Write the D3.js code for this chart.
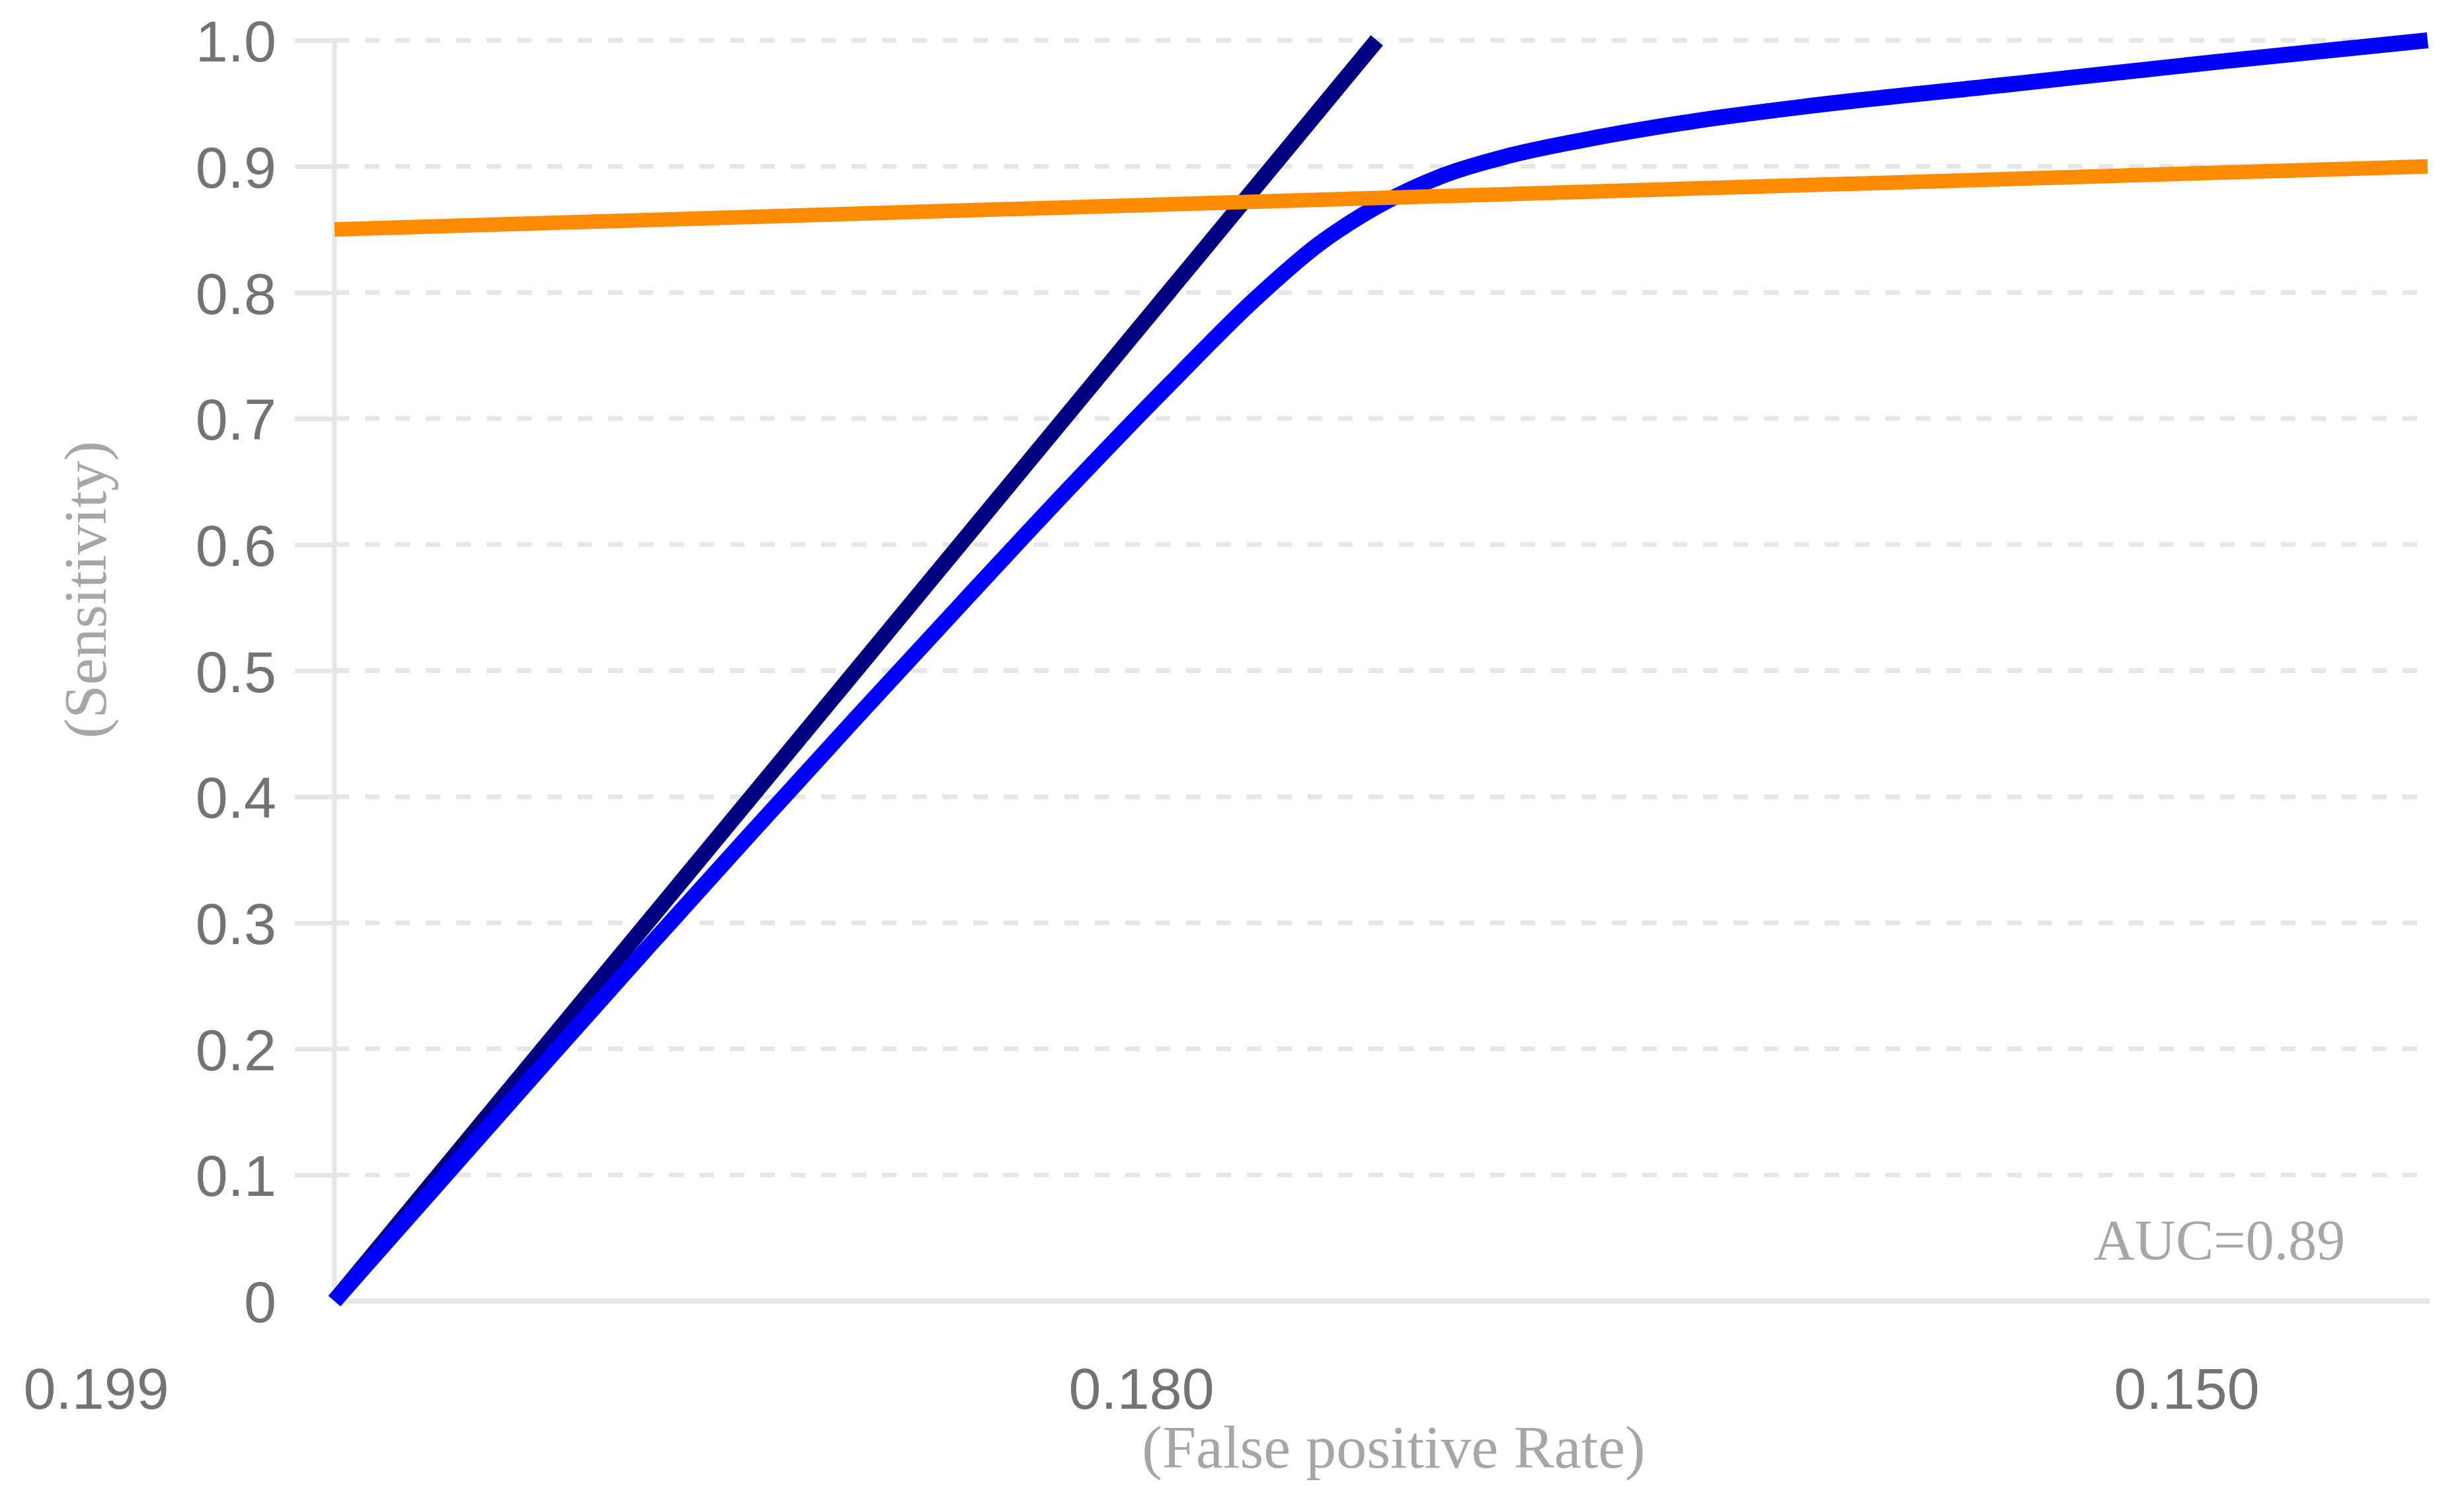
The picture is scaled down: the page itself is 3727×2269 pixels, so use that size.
<!DOCTYPE html>
<html>
<head>
<meta charset="utf-8">
<script src="https://cdn.jsdelivr.net/npm/d3@7"></script>
<style>
  html, body { margin: 0; padding: 0; background: #ffffff; }
  svg { display: block; }
</style>
</head>
<body>
<svg id="chart"></svg>
<script>
// ---------------- data ----------------
const yTicks = [0, 0.1, 0.2, 0.3, 0.4, 0.5, 0.6, 0.7, 0.8, 0.9, 1.0];
const yTickLabels = ["0", "0.1", "0.2", "0.3", "0.4", "0.5", "0.6", "0.7", "0.8", "0.9", "1.0"];
const xTickLabels = ["0.199", "0.180", "0.150"];

// curves: x is position along the plotted axis (0 = left edge, 1 = right edge)
const navyX = [0, 0.498];
const navyY = [0, 1.0];

const blueX = [0, 0.05, 0.10, 0.15, 0.20, 0.25, 0.30, 0.35, 0.40, 0.44, 0.47, 0.50, 0.53, 0.56, 0.60, 0.65, 0.70, 0.80, 0.90, 1.00];
const blueY = [0, 0.094, 0.188, 0.281, 0.373, 0.464, 0.554, 0.643, 0.729, 0.795, 0.838, 0.870, 0.893, 0.908, 0.922, 0.936, 0.947, 0.965, 0.983, 1.0];

const orangeX = [0, 1];
const orangeY = [0.85, 0.90];

const aucText = "AUC=0.89";
const xTitle = "(False positive Rate)";
const yTitle = "(Sensitivity)";

// ---------------- layout ----------------
const W = 3727, H = 2269;
const plotLeft = 506, plotRight = 3672, plotTop = 61, plotBottom = 1968;

const svg = d3.select("#chart").attr("width", W).attr("height", H)
  .attr("viewBox", `0 0 ${W} ${H}`);
svg.append("rect").attr("width", W).attr("height", H).attr("fill", "#ffffff");

const x = d3.scaleLinear().domain([0, 1]).range([plotLeft, plotRight]);
const y = d3.scaleLinear().domain([0, 1]).range([plotBottom, plotTop]);
const xLab = d3.scalePoint().domain(xTickLabels).range([145, 3307]);

const gridColor = "#e6e6e6";
const sansFont = "'Liberation Sans', Arial, Helvetica, sans-serif";
const serifFont = "'Liberation Serif', 'Times New Roman', serif";

// dashed gridlines
svg.append("g")
  .selectAll("line")
  .data(yTicks.filter(d => d > 0))
  .join("line")
  .attr("x1", plotLeft).attr("x2", plotRight)
  .attr("y1", d => y(d)).attr("y2", d => y(d))
  .attr("stroke", gridColor).attr("stroke-width", 7)
  .attr("stroke-dasharray", "22,24");

// y axis with tick stubs + labels
const yAxis = svg.append("g")
  .attr("transform", `translate(${plotLeft},0)`)
  .call(d3.axisLeft(y).tickValues(yTicks)
    .tickFormat((d, i) => yTickLabels[i]).tickSize(60).tickPadding(28));
yAxis.select(".domain").remove();
yAxis.selectAll(".tick line")
  .attr("stroke", gridColor).attr("stroke-width", 7)
  .filter(d => d === 0).remove();
yAxis.selectAll(".tick text")
  .attr("fill", "#737373").attr("font-family", sansFont).attr("font-size", 88)
  .attr("dy", "0.36em");

// axis lines
svg.append("line")
  .attr("x1", plotLeft).attr("x2", plotLeft)
  .attr("y1", y(1)).attr("y2", y(0))
  .attr("stroke", gridColor).attr("stroke-width", 7);
svg.append("line")
  .attr("x1", plotLeft).attr("x2", plotRight + 3)
  .attr("y1", y(0)).attr("y2", y(0))
  .attr("stroke", gridColor).attr("stroke-width", 8);

// x tick labels
const xAxis = svg.append("g")
  .attr("transform", `translate(0,2069)`)
  .call(d3.axisBottom(xLab).tickSize(0).tickPadding(0));
xAxis.select(".domain").remove();
xAxis.selectAll(".tick text")
  .attr("fill", "#737373").attr("font-family", sansFont).attr("font-size", 88);

// lines
const line = d3.line().x(d => x(d[0])).y(d => y(d[1]));
const lineSmooth = d3.line().x(d => x(d[0])).y(d => y(d[1])).curve(d3.curveMonotoneX);

svg.append("path")
  .datum(navyX.map((v, i) => [v, navyY[i]]))
  .attr("d", line).attr("fill", "none")
  .attr("stroke", "#000080").attr("stroke-width", 24);

svg.append("path")
  .datum(blueX.map((v, i) => [v, blueY[i]]))
  .attr("d", lineSmooth).attr("fill", "none")
  .attr("stroke", "#0000ff").attr("stroke-width", 24);

svg.append("path")
  .datum(orangeX.map((v, i) => [v, orangeY[i]]))
  .attr("d", line).attr("fill", "none")
  .attr("stroke", "#ff8c00").attr("stroke-width", 22);

// texts
svg.append("text")
  .attr("x", 3357).attr("y", 1905)
  .attr("text-anchor", "middle")
  .attr("font-family", serifFont).attr("font-size", 86)
  .attr("fill", "#a9a5a5")
  .text(aucText);

svg.append("text")
  .attr("x", 2108).attr("y", 2220)
  .attr("text-anchor", "middle")
  .attr("font-family", serifFont).attr("font-size", 92)
  .attr("fill", "#a9a5a5")
  .text(xTitle);

svg.append("text")
  .attr("transform", `translate(160,892) rotate(-90)`)
  .attr("text-anchor", "middle")
  .attr("font-family", serifFont).attr("font-size", 91)
  .attr("fill", "#a9a5a5")
  .text(yTitle);
</script>
</body>
</html>
